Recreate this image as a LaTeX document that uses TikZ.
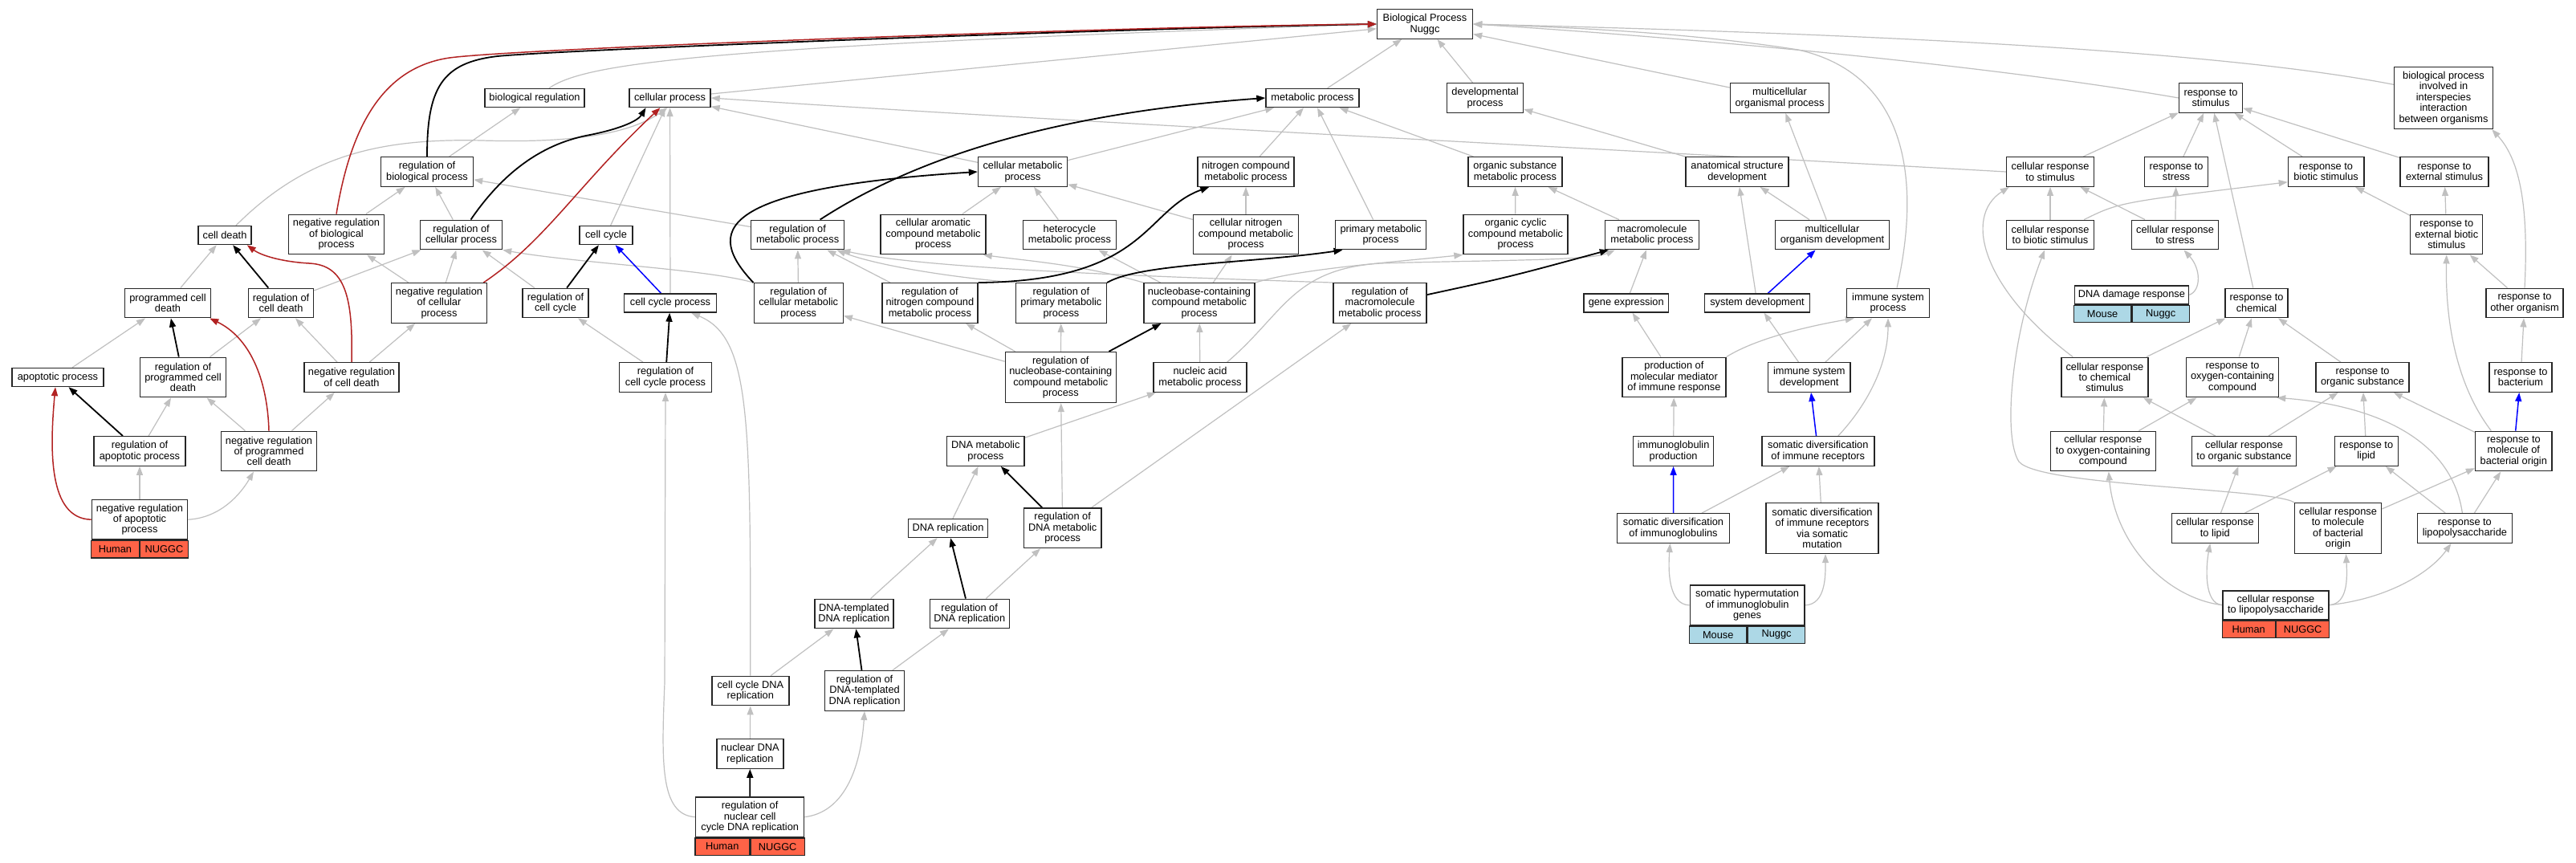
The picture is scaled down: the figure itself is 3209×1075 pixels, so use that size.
\documentclass[tikz,border=0pt]{standalone}
\usepackage{fontspec}
\setmainfont{Liberation Sans}
\usetikzlibrary{arrows.meta,backgrounds}
\definecolor{edgegray}{RGB}{192,192,192}
\definecolor{negred}{RGB}{178,34,34}
\definecolor{genered}{RGB}{255,99,71}
\definecolor{geneblue}{RGB}{173,216,230}
\tikzset{
  term/.style={draw=black!85, line width=1.4pt, fill=white, align=center, inner sep=0pt,
    minimum width=#1pt, font=\fontsize{12.8}{13.4}\selectfont},
  h1/.style={minimum height=23pt},
  h2/.style={minimum height=36.5pt},
  h3/.style={minimum height=49.5pt},
  h4/.style={minimum height=63pt},
  h5/.style={minimum height=77pt},
  gene/.style={draw=black!85, line width=1.4pt, inner sep=0pt, minimum height=21.5pt,
    font=\fontsize{12.8}{13.4}\selectfont},
  human/.style={gene, fill=genered, minimum width=#1pt},
  mouse/.style={gene, fill=geneblue, minimum width=#1pt},
  isa/.style={draw=edgegray, line width=1.2pt, -{Triangle[length=11pt,width=8pt]}},
  blk/.style={draw=black, line width=1.8pt, -{Triangle[length=11pt,width=8pt]}},
  neg/.style={draw=negred, line width=1.5pt, -{Triangle[length=11pt,width=8pt]}},
  prt/.style={draw=blue, line width=1.5pt, -{Triangle[length=11pt,width=8pt]}},
}
\begin{document}
\begin{tikzpicture}[x=1pt,y=-1pt]
\useasboundingbox (0,0) rectangle (3209,1075);
% terms, row by row
\node[term=119,h2] (bp) at (1775,30) {Biological Process\\Nuggc};

\node[term=124,h1] (breg) at (666,122) {biological regulation};
\node[term=101,h1] (cp) at (834.5,122) {cellular process};
\node[term=116,h1] (mp) at (1635,122) {metabolic process};
\node[term=95,h2] (dev) at (1850,122) {developmental\\process};
\node[term=123,h2] (mop) at (2217,122) {multicellular\\organismal process};
\node[term=79,h2] (rstim) at (2754,122) {response to\\stimulus};
\node[term=123,h5] (bpii) at (3044,122) {biological process\\involved in\\interspecies\\interaction\\between organisms};

\node[term=115,h2] (rbp) at (532,214) {regulation of\\biological process};
\node[term=111,h2] (cmp) at (1274,214) {cellular metabolic\\process};
\node[term=120,h2] (ncmp) at (1552,214) {nitrogen compound\\metabolic process};
\node[term=117,h2] (osmp) at (1887.4,214) {organic substance\\metabolic process};
\node[term=128,h2] (asd) at (2164,214) {anatomical structure\\development};
\node[term=109,h2] (crstim) at (2554,214) {cellular response\\to stimulus};
\node[term=79.5,h2] (rstress) at (2711,214) {response to\\stress};
\node[term=94.4,h2] (rbiot) at (2897.6,214) {response to\\biotic stimulus};
\node[term=110,h2] (rext) at (3045,214) {response to\\external stimulus};

\node[term=66,h1] (cd) at (280,293) {cell death};
\node[term=119,h3] (nrbp) at (419,292) {negative regulation\\of biological\\process};
\node[term=102,h2] (rcp) at (574.5,292.5) {regulation of\\cellular process};
\node[term=66,h1] (cc) at (755,293) {cell cycle};
\node[term=116,h2] (rmp) at (993.6,292.5) {regulation of\\metabolic process};
\node[term=131,h3] (cacmp) at (1162.5,292) {cellular aromatic\\compound metabolic\\process};
\node[term=116,h2] (hmp) at (1332.4,292.5) {heterocycle\\metabolic process};
\node[term=131,h3] (cncmp) at (1552,292) {cellular nitrogen\\compound metabolic\\process};
\node[term=113.5,h2] (pmp) at (1720,292.5) {primary metabolic\\process};
\node[term=130,h3] (occmp) at (1888,292) {organic cyclic\\compound metabolic\\process};
\node[term=117,h2] (mmp) at (2058,292.5) {macromolecule\\metabolic process};
\node[term=142,h2] (mod) at (2282.5,292.5) {multicellular\\organism development};
\node[term=109,h2] (crbiot) at (2554,292.5) {cellular response\\to biotic stimulus};
\node[term=108,h2] (crstress) at (2709.5,292.5) {cellular response\\to stress};
\node[term=90,h3] (rebiot) at (3047.7,292) {response to\\external biotic\\stimulus};

\node[term=107,h2] (pcd) at (209,377.5) {programmed cell\\death};
\node[term=81,h2] (rcd) at (350,377.5) {regulation of\\cell death};
\node[term=119,h3] (nrcp) at (547,377.5) {negative regulation\\of cellular\\process};
\node[term=82,h2] (rcc) at (692,377.5) {regulation of\\cell cycle};
\node[term=115,h1] (ccp) at (835,377.5) {cell cycle process};
\node[term=111,h3] (rcmp) at (994.7,377.5) {regulation of\\cellular metabolic\\process};
\node[term=119,h3] (rncmp) at (1158.4,377.5) {regulation of\\nitrogen compound\\metabolic process};
\node[term=113,h3] (rpmp) at (1321.9,377.5) {regulation of\\primary metabolic\\process};
\node[term=138,h3] (nbmp) at (1494,377.5) {nucleobase-containing\\compound metabolic\\process};
\node[term=116,h3] (rmmp) at (1719,377.5) {regulation of\\macromolecule\\metabolic process};
\node[term=105.6,h1] (gex) at (2025.7,377.5) {gene expression};
\node[term=131,h1] (sysdev) at (2189,377.5) {system development};
\node[term=103,h2] (isp) at (2352,377.5) {immune system\\process};
\node[term=142.4,h1] (ddr) at (2655.4,367.3) {DNA damage response};
\node[mouse=71.2,anchor=north east] (ddrM) at (ddr.south) {Mouse};
\node[mouse=71.2,anchor=north west] (ddrG) at (ddr.south) {Nuggc};
\node[term=78,h2] (rchem) at (2811,377.5) {response to\\chemical};
\node[term=96,h2] (rother) at (3145,377.5) {response to\\other organism};

\node[term=114,h1] (ap) at (72,470) {apoptotic process};
\node[term=107,h3] (rpcd) at (228,470) {regulation of\\programmed cell\\death};
\node[term=118,h2] (nrcd) at (438,470) {negative regulation\\of cell death};
\node[term=115,h2] (rccp) at (829,470) {regulation of\\cell cycle process};
\node[term=138,h4] (rnbmp) at (1321.3,470) {regulation of\\nucleobase-containing\\compound metabolic\\process};
\node[term=116,h2] (namp) at (1495,470) {nucleic acid\\metabolic process};
\node[term=129,h3] (pmm) at (2085.4,470) {production of\\molecular mediator\\of immune response};
\node[term=102.5,h2] (isd) at (2253.8,470) {immune system\\development};
\node[term=108,h3] (crchem) at (2621.9,470) {cellular response\\to chemical\\stimulus};
\node[term=115,h3] (roxy) at (2781,470) {response to\\oxygen-containing\\compound};
\node[term=116,h2] (rorg) at (2943,470) {response to\\organic substance};
\node[term=78,h2] (rbact) at (3140,470) {response to\\bacterium};

\node[term=114,h2] (rap) at (174,562) {regulation of\\apoptotic process};
\node[term=119,h3] (nrpcd) at (335,562) {negative regulation\\of programmed\\cell death};
\node[term=96.5,h2] (dnamp) at (1227.8,562) {DNA metabolic\\process};
\node[term=100,h2] (igp) at (2084.6,562) {immunoglobulin\\production};
\node[term=140,h2] (sdir) at (2264.8,562) {somatic diversification\\of immune receptors};
\node[term=131,h3] (croxy) at (2619.8,562) {cellular response\\to oxygen-containing\\compound};
\node[term=130.5,h2] (crorg) at (2795.5,562) {cellular response\\to organic substance};
\node[term=79,h2] (rlip) at (2947.7,562) {response to\\lipid};
\node[term=95.5,h3] (rmba) at (3131.3,562) {response to\\molecule of\\bacterial origin};

\node[term=119.4,h3] (nrap) at (174,647.2) {negative regulation\\of apoptotic\\process};
\node[human=59.7,anchor=north east] (nrapH) at (nrap.south) {Human};
\node[human=59.7,anchor=north west] (nrapG) at (nrap.south) {NUGGC};
\node[term=99,h1] (dnarep) at (1181,658) {DNA replication};
\node[term=96.5,h3] (rdnamp) at (1323.7,657.8) {regulation of\\DNA metabolic\\process};
\node[term=140,h2] (sdig) at (2084.5,658) {somatic diversification\\of immunoglobulins};
\node[term=140,h4] (sdsm) at (2270,658) {somatic diversification\\of immune receptors\\via somatic\\mutation};
\node[term=108,h2] (crlip) at (2759.3,658) {cellular response\\to lipid};
\node[term=108,h4] (crmba) at (2912.5,658) {cellular response\\to molecule\\of bacterial\\origin};
\node[term=118,h2] (rlps) at (3070.4,658) {response to\\lipopolysaccharide};

\node[term=98,h2] (dtrep) at (1063.8,764.5) {DNA-templated\\DNA replication};
\node[term=99,h2] (rdnarep) at (1207.7,764.5) {regulation of\\DNA replication};
\node[term=142.8,h3] (shig) at (2176.6,753.9) {somatic hypermutation\\of immunoglobulin\\genes};
\node[mouse=71.4,anchor=north east] (shigM) at (shig.south) {Mouse};
\node[mouse=71.4,anchor=north west] (shigG) at (shig.south) {Nuggc};
\node[term=132,minimum height=35.8pt] (crlps) at (2834.9,753.7) {cellular response\\to lipopolysaccharide};
\node[human=66,anchor=north east] (crlpsH) at (crlps.south) {Human};
\node[human=66,anchor=north west] (crlpsG) at (crlps.south) {NUGGC};

\node[term=96,h2] (ccdna) at (934.8,860.5) {cell cycle DNA\\replication};
\node[term=99,h3] (rdtrep) at (1077,860.5) {regulation of\\DNA-templated\\DNA replication};
\node[term=83,h2] (ndna) at (934.3,939) {nuclear DNA\\replication};
\node[term=135,h3] (rncdna) at (934.2,1017.7) {regulation of\\nuclear cell\\cycle DNA replication};
\node[human=67.5,anchor=north east] (rncdnaH) at (rncdna.south) {Human};
\node[human=67.5,anchor=north west] (rncdnaG) at (rncdna.south) {NUGGC};

\begin{scope}[on background layer]
\fill[white] (0,0) rectangle (3209,1075);
% gray is_a links
\path (cp) edge[isa] (bp);
\path (rbp) edge[isa] (breg);
\path (nrbp) edge[isa] (rbp);
\path (rcp) edge[isa] (rbp);
\path (rmp) edge[isa] (rbp);
\path (cc) edge[isa] (cp);
\path (ccp) edge[isa] (cp);
\path (cmp) edge[isa] (cp);
\path (nrcp) edge[isa] (nrbp);
\path (nrcp) edge[isa] (rcp);
\path (rcd) edge[isa] (rcp);
\path (rcc) edge[isa] (rcp);
\path (pcd) edge[isa] (cd);
\path (ap) edge[isa] (pcd);
\path (rpcd) edge[isa] (rcd);
\path (nrcd) edge[isa] (rcd);
\path (nrcd) edge[isa] (nrcp);
\path (nrpcd) edge[isa] (rpcd);
\path (nrpcd) edge[isa] (nrcd);
\path (rap) edge[isa] (rpcd);
\path (nrap) edge[isa] (rap);
\path (rccp) edge[isa] (rcc);
\path (mp) edge[isa] (bp);
\path (cmp) edge[isa] (mp);
\path (ncmp) edge[isa] (mp);
\path (pmp) edge[isa] (mp);
\path (osmp) edge[isa] (mp);
\path (rcmp) edge[isa] (rmp);
\path (cacmp) edge[isa] (cmp);
\path (hmp) edge[isa] (cmp);
\path (cncmp) edge[isa] (cmp);
\path (cncmp) edge[isa] (ncmp);
\path (rncmp) edge[isa] (rmp);
\path (nbmp) edge[isa] (hmp);
\path (nbmp) edge[isa] (cncmp);
\path (rnbmp) edge[isa] (rncmp);
\path (rnbmp) edge[isa] (rpmp);
\path (rnbmp) edge[isa] (rcmp);
\path (namp) edge[isa] (nbmp);
\path (rdnamp) edge[isa] (rmmp);
\path (rdnamp) edge[isa] (rnbmp);
\path (dnamp) edge[isa] (namp);
\path (dnarep) edge[isa] (dnamp);
\path (rdnarep) edge[isa] (rdnamp);
\path (dtrep) edge[isa] (dnarep);
\path (rdtrep) edge[isa] (rdnarep);
\path (ccdna) edge[isa] (dtrep);
\path (ndna) edge[isa] (ccdna);
\path (occmp) edge[isa] (osmp);
\path (mmp) edge[isa] (osmp);
\path (dev) edge[isa] (bp);
\path (asd) edge[isa] (dev);
\path (mop) edge[isa] (bp);
\path (mod) edge[isa] (mop);
\path (mod) edge[isa] (asd);
\path (sysdev) edge[isa] (asd);
\path (gex) edge[isa] (mmp);
\path (pmm) edge[isa] (gex);
\path (isd) edge[isa] (sysdev);
\path (isd) edge[isa] (isp);
\path (igp) edge[isa] (pmm);
\path (sdig) edge[isa] (sdir);
\path (sdsm) edge[isa] (sdir);
\path (crstim) edge[isa] (rstim);
\path (rstress) edge[isa] (rstim);
\path (rchem) edge[isa] (rstim);
\path (rbiot) edge[isa] (rstim);
\path (rext) edge[isa] (rstim);
\path (crbiot) edge[isa] (crstim);
\path (crstress) edge[isa] (crstim);
\path (crstress) edge[isa] (rstress);
\path (rebiot) edge[isa] (rbiot);
\path (rebiot) edge[isa] (rext);
\path (rother) edge[isa] (rebiot);
\path (crchem) edge[isa] (rchem);
\path (roxy) edge[isa] (rchem);
\path (rorg) edge[isa] (rchem);
\path (rbact) edge[isa] (rother);
\path (rmba) edge[isa] (rorg);
\path (rlps) edge[isa] (rlip);
\path (rlps) edge[isa] (rmba);
\path (rlip) edge[isa] (rorg);
\path (croxy) edge[isa] (crchem);
\path (croxy) edge[isa] (roxy);
\path (crorg) edge[isa] (crchem);
\path (crorg) edge[isa] (rorg);
\path (crlip) edge[isa] (crorg);
\path (crlip) edge[isa] (rlip);
\path (crmba) edge[isa] (rmba);
% gray curved links
\draw[isa] ([xshift=18pt]breg.north) .. controls (730,78) and (880,58) .. (bp.west);
\draw[isa] ([xshift=14pt]cd.north) .. controls (380,195) and (470,172) .. (600,175)
  .. controls (700,178) and (780,170) .. ([xshift=-3pt]cp.south);
\draw[isa] (crstim.west) .. controls (1900,180) and (1300,150) .. (cp.east);
\draw[isa] (rcmp.north west) .. controls (880,335) and (720,328) .. (rcp.south east);
\draw[isa] (nrap.east) .. controls (275,645) and (300,615) .. ([xshift=-19pt]nrpcd.south);
\draw[isa] (rncdna.west) .. controls (822,1015) and (824,950) .. (828,850) -- (rccp.south);
\draw[isa] (ccdna.north) .. controls (935,520) and (935,420) .. ([xshift=26pt]ccp.south);
\draw[isa] (rpmp.north west) .. controls (1180,345) and (1090,330) .. ([xshift=-10pt]rmp.south east);
\draw[isa] (rmmp.north west) .. controls (1450,345) and (1150,335) .. ([xshift=-4pt]rmp.south east);
\draw[isa] (nbmp.north west) .. controls (1350,330) and (1280,325) .. ([xshift=-4pt]cacmp.south east);
\draw[isa] (nbmp.north east) .. controls (1620,335) and (1720,328) .. (occmp.south west);
\draw[isa] ([xshift=-25pt]namp.north east) .. controls (1600,390) and (1610,335) .. (1720,328)
  .. controls (1850,324) and (1980,325) .. ([xshift=13pt]mmp.south west);
\draw[isa] (rncdna.east) .. controls (1050,1012) and (1072,960) .. (rdtrep.south);
\draw[isa] ([xshift=11pt]isp.north) .. controls (2390,240) and (2385,95) .. (2240,62)
  .. controls (2100,40) and (1950,34) .. (bp.east);
\draw[isa] (pmm.north east) .. controls (2190,420) and (2260,405) .. ([xshift=10pt]isp.south west);
\draw[isa] ([xshift=25pt]sdir.north) .. controls (2330,500) and (2352,450) .. (isp.south);
\draw[isa] (shig.west) .. controls (2078,753) and (2078,710) .. ([xshift=-4pt]sdig.south);
\draw[isa] (shig.east) .. controls (2275,753) and (2274,715) .. ([xshift=4pt]sdsm.south);
\draw[isa] (rstim.west) .. controls (2500,85) and (2150,50) .. (bp.east);
\draw[isa] (bpii.165) .. controls (2800,70) and (2450,45) .. (bp.east);
\draw[isa] ([xshift=-13pt]crbiot.north east) .. controls (2640,252) .. (rbiot.195);
\draw[isa] (rother.north) .. controls (3150,260) and (3140,200) .. ([xshift=-2pt]bpii.south east);
\draw[isa] (ddr.east) .. controls (2742,362) and (2742,335) .. (crstress.300);
\draw[isa] ([xshift=15pt]crchem.north west) .. controls (2470,360) and (2445,270) .. ([xshift=4pt]crstim.south west);
\draw[isa] ([xshift=-28pt]rmba.north) .. controls (3060,480) and (3046,400) .. (rebiot.south);
\draw[isa] ([xshift=-3pt]rlps.north) .. controls (3050,520) and (2900,500) .. ([xshift=-3pt]roxy.south east);
\draw[isa] (crmba.north west) .. controls (2830,608) and (2540,606) .. (2515,575)
  .. controls (2495,545) and (2505,420) .. (crbiot.250);
\draw[isa] (crlps.west) .. controls (2700,745) and (2635,680) .. ([xshift=7pt]croxy.south);
\draw[isa] (crlps.west) .. controls (2745,752) and (2748,705) .. ([xshift=-6pt]crlip.south);
\draw[isa] (crlps.east) .. controls (2925,752) and (2924,720) .. ([xshift=10pt]crmba.south);
\draw[isa] (crlps.east) .. controls (2980,745) and (3030,710) .. ([xshift=-17pt]rlps.south);
% blue part_of links
\path (ccp) edge[prt] (cc);
\path (sysdev) edge[prt] (mod);
\path (sdir) edge[prt] (isd);
\path (sdig) edge[prt] (igp);
\path (rmba) edge[prt] (rbact);
% black regulates links
\path (rcd) edge[blk] (cd);
\path (rpcd) edge[blk] (pcd);
\path (rap) edge[blk] (ap);
\path (rcc) edge[blk] (cc);
\path (rccp) edge[blk] (ccp);
\path (rnbmp) edge[blk] (nbmp);
\path (rdnamp) edge[blk] (dnamp);
\path (rdnarep) edge[blk] (dnarep);
\path (rdtrep) edge[blk] (dtrep);
\path (rncdna) edge[blk] (ndna);
\draw[blk] (rbp.north) .. controls (532,110) and (550,78) .. (620,70)
  .. controls (700,62) and (1400,35) .. (bp.west);
\draw[blk] ([xshift=12pt]rcp.north) .. controls (630,210) and (680,178) .. (735,168)
  .. controls (775,160) and (795,150) .. ([xshift=-30pt]cp.south);
\draw[blk] ([xshift=28pt]rmp.north) .. controls (1150,190) and (1330,140) .. (mp.west);
\draw[blk] (rcmp.north west) .. controls (880,290) and (885,235) .. (cmp.west);
\draw[blk] (rncmp.north east) .. controls (1430,350) and (1425,262) .. ([xshift=15pt]ncmp.south west);
\draw[blk] (rpmp.north east) .. controls (1420,328) and (1560,328) .. ([xshift=10pt]pmp.south west);
\draw[blk] (rmmp.10) .. controls (1880,345) .. ([xshift=5pt]mmp.south west);
% red negative regulation links
\draw[neg] (nrbp.north) .. controls (435,170) and (470,85) .. (560,72)
  .. controls (650,60) and (1400,33) .. (bp.west);
\draw[neg] ([xshift=-5pt]nrcp.north east) .. controls (680,300) and (720,230) .. ([xshift=-12pt]cp.south);
\draw[neg] (nrcd.north) .. controls (440,370) and (430,330) .. (385,328)
  .. controls (350,326) and (325,318) .. ([xshift=-6pt]cd.south east);
\draw[neg] (nrpcd.north) .. controls (333,470) and (310,420) .. ([xshift=-2pt]pcd.south east);
\draw[neg] (nrap.west) .. controls (60,646) and (62,560) .. ([xshift=-3pt]ap.south);
\end{scope}
\end{tikzpicture}
\end{document}
